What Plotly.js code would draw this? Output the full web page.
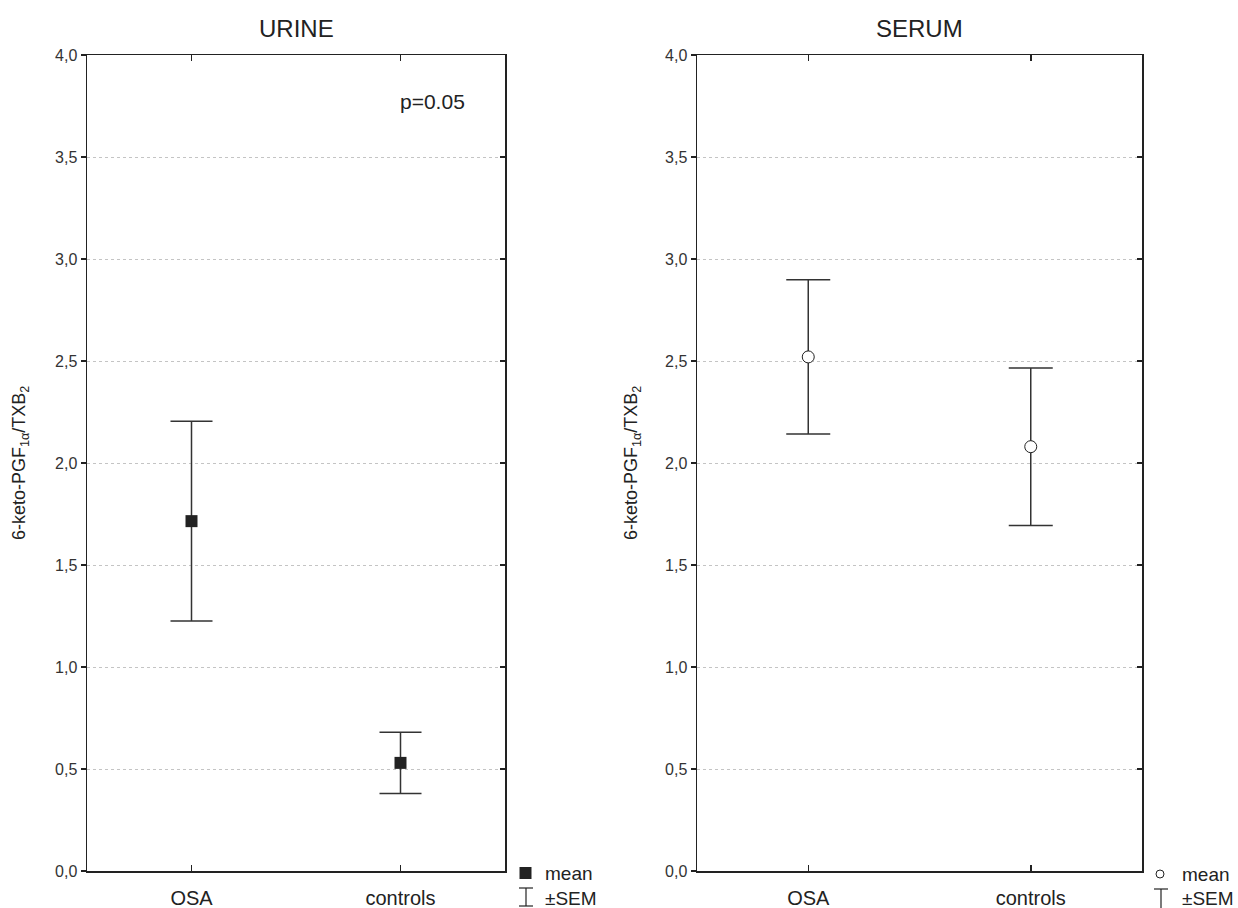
<!DOCTYPE html>
<html>
<head>
<meta charset="utf-8">
<script src="https://cdn.plot.ly/plotly-3.0.1.min.js"></script>
<style>html,body{margin:0;padding:0;background:#fff;}#chart{width:1238px;height:908px;}</style>
</head>
<body>
<div id="chart"></div>
<script>
// ---- data ----
const categories = ['OSA', 'controls'];
const urineMean = [1.715, 0.53];
const urineSEM = [0.49, 0.15];
const serumMean = [2.52, 2.08];
const serumSEM = [0.378, 0.386];
const yTickVals = [0, 0.5, 1, 1.5, 2, 2.5, 3, 3.5, 4];
const yTickText = ['0,0', '0,5', '1,0', '1,5', '2,0', '2,5', '3,0', '3,5', '4,0'];
const panelTitles = ['URINE', 'SERUM'];
const yTitle = '6-keto-PGF<sub>1α</sub>/TXB<sub>2</sub>';
const pText = 'p=0.05';

// ---- layout helpers ----
const W = 1238, H = 908;
const px = x => x / W;
const py = y => 1 - y / H;
const FONT = 'Liberation Sans, Arial, sans-serif';
const INK = '#222';

const yDomain = [py(871), py(55)];
const x1Dom = [px(87), px(505)];
const x2Dom = [px(697), px(1142)];

function xAxis(dom, anchor) {
  return {
    domain: dom, anchor: anchor, type: 'category', range: [-0.5, 1.5],
    showline: true, linecolor: INK, linewidth: 1.5, mirror: 'ticks',
    ticks: 'inside', ticklen: 6, tickwidth: 1.5, tickcolor: INK,
    showgrid: false, zeroline: false,
    tickfont: {family: FONT, size: 20, color: INK},
    ticklabelstandoff: 8, fixedrange: true
  };
}
function yAxis(anchor) {
  return {
    domain: yDomain, anchor: anchor, range: [0, 4],
    tickvals: yTickVals, ticktext: yTickText,
    showline: true, linecolor: INK, linewidth: 1.5, mirror: true,
    ticks: 'outside', ticklen: 5, tickwidth: 1.2, tickcolor: INK,
    showgrid: true, gridcolor: '#c4c4c4', gridwidth: 1, griddash: 'dot',
    zeroline: false,
    tickfont: {family: FONT, size: 16, color: '#333'}, fixedrange: true
  };
}
function yRight(overlay, anchor) {
  return {
    overlaying: overlay, anchor: anchor, side: 'right', range: [0, 4],
    tickvals: yTickVals, showticklabels: false, ticks: 'inside', ticklen: 5,
    tickwidth: 1.2, tickcolor: INK, showgrid: false, zeroline: false,
    showline: false, fixedrange: true
  };
}

const errStyle = {type: 'data', visible: true, color: '#333', thickness: 1.5, width: 21};

const traces = [
  {
    type: 'scatter', mode: 'markers', x: categories, y: urineMean,
    xaxis: 'x', yaxis: 'y',
    error_y: Object.assign({array: urineSEM}, errStyle),
    marker: {symbol: 'square', size: 12, color: INK},
    showlegend: false, hoverinfo: 'skip'
  },
  {
    type: 'scatter', mode: 'markers', x: categories, y: serumMean,
    xaxis: 'x2', yaxis: 'y2',
    error_y: Object.assign({array: serumSEM}, errStyle, {width: 22}),
    marker: {symbol: 'circle', size: 12, color: '#fff', line: {color: INK, width: 1}},
    showlegend: false, hoverinfo: 'skip'
  },
  {type: 'scatter', x: [], y: [], xaxis: 'x', yaxis: 'y3', showlegend: false},
  {type: 'scatter', x: [], y: [], xaxis: 'x2', yaxis: 'y4', showlegend: false}
];

function ann(text, x, y, size, extra) {
  return Object.assign({
    text: text, x: px(x), y: py(y), xref: 'paper', yref: 'paper',
    showarrow: false, font: {family: FONT, size: size, color: INK},
    xanchor: 'center', yanchor: 'middle'
  }, extra || {});
}
function line(x0, y0, x1, y1, w) {
  return {type: 'line', xref: 'paper', yref: 'paper', x0: px(x0), y0: py(y0), x1: px(x1), y1: py(y1),
    line: {color: INK, width: w || 1.2}};
}

const annotations = [
  ann(panelTitles[0], 296, 28, 24),
  ann(panelTitles[1], 919.5, 28, 24),
  ann(pText, 432, 102, 21),
  ann(yTitle, 20, 463, 18, {textangle: -90}),
  ann(yTitle, 632, 463, 18, {textangle: -90}),
  ann('mean', 543, 873, 19, {xanchor: 'left'}),
  ann('±SEM', 543, 898, 19, {xanchor: 'left'}),
  ann('mean', 1180, 874, 19, {xanchor: 'left'}),
  ann('±SEM', 1180, 898, 19, {xanchor: 'left'})
];

const shapes = [
  {type: 'rect', xref: 'paper', yref: 'paper', x0: px(519.5), x1: px(531.5), y0: py(879), y1: py(867),
    fillcolor: INK, line: {width: 0}},
  line(526, 888, 526, 906),
  line(519, 888, 533, 888),
  line(519, 906, 533, 906),
  {type: 'circle', xref: 'paper', yref: 'paper', x0: px(1156), x1: px(1164), y0: py(878), y1: py(870),
    fillcolor: '#fff', line: {color: INK, width: 1}},
  line(1154, 889, 1168, 889),
  line(1161, 889, 1161, 908)
];

const layout = {
  width: W, height: H,
  margin: {l: 0, r: 0, t: 0, b: 0},
  paper_bgcolor: '#fff', plot_bgcolor: '#fff',
  showlegend: false,
  xaxis: xAxis(x1Dom, 'y'),
  yaxis: yAxis('x'),
  xaxis2: xAxis(x2Dom, 'y2'),
  yaxis2: yAxis('x2'),
  yaxis3: yRight('y', 'x'),
  yaxis4: yRight('y2', 'x2'),
  annotations: annotations,
  shapes: shapes,
  font: {family: FONT, color: INK}
};

Plotly.newPlot('chart', traces, layout, {staticPlot: true, displayModeBar: false});
</script>
</body>
</html>
